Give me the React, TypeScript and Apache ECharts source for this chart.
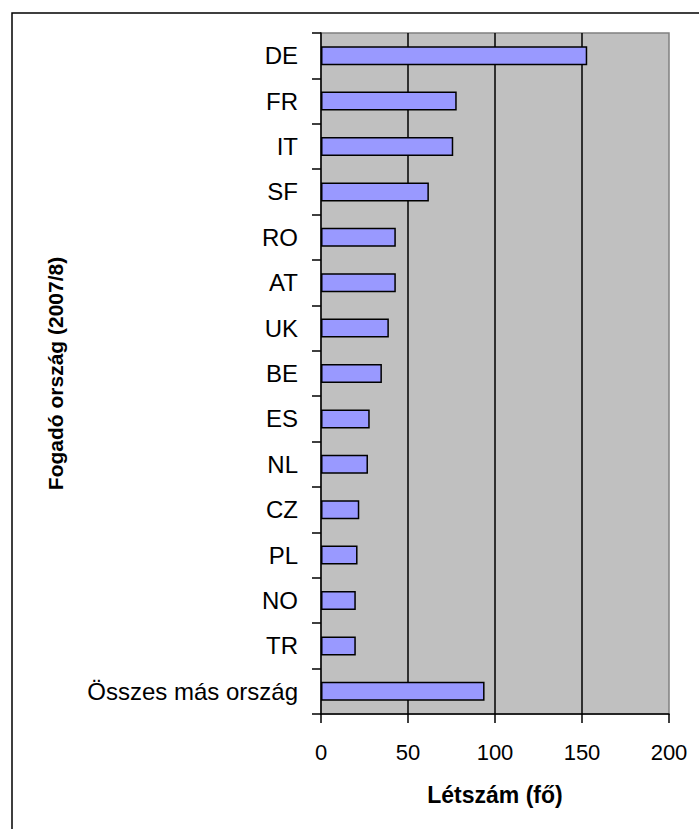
import React, { useEffect, useRef } from "react";
import * as echarts from "echarts";

const categories = ["DE", "FR", "IT", "SF", "RO", "AT", "UK", "BE", "ES", "NL", "CZ", "PL", "NO", "TR", "Összes más ország"];
const values = [153, 78, 76, 62, 43, 43, 39, 35, 28, 27, 22, 21, 20, 20, 94];
const xTicks = { min: 0, max: 200, interval: 50 };
const xTitle = "Létszám (fő)";
const yTitle = "Fogadó ország (2007/8)";

export default function App() {
  const ref = useRef<HTMLDivElement>(null);
  useEffect(() => {
    if (!ref.current) return;
    const chart = echarts.init(ref.current, undefined, { renderer: "svg" });
    const font = "'Liberation Sans', Arial, Helvetica, sans-serif";
    chart.setOption({
      animation: false,
      backgroundColor: "#ffffff",
      textStyle: { fontFamily: font },
      graphic: [
        {
          type: "rect",
          silent: true,
          shape: { x: 12, y: 13, width: 760, height: 860 },
          style: { fill: "none", stroke: "#000", lineWidth: 1.5 },
        },
      ],
      grid: {
        left: 321,
        top: 33,
        right: 30,
        bottom: 115,
        show: true,
        backgroundColor: "#C0C0C0",
        borderColor: "#808080",
        borderWidth: 1.5,
      },
      xAxis: {
        type: "value",
        min: xTicks.min,
        max: xTicks.max,
        interval: xTicks.interval,
        name: xTitle,
        nameLocation: "middle",
        nameGap: 69,
        nameTextStyle: { fontSize: 23, fontWeight: "bold", color: "#000", fontFamily: font },
        axisLine: { show: true, lineStyle: { color: "#000", width: 1.5 } },
        axisTick: { show: true, length: 9, lineStyle: { color: "#000", width: 1.5 } },
        axisLabel: { fontSize: 22, color: "#000", margin: 27, fontFamily: font },
        splitLine: {
          show: true,
          showMinLine: false,
          showMaxLine: false,
          lineStyle: { color: "#000", width: 1.5 },
        },
      },
      yAxis: {
        type: "category",
        data: categories,
        inverse: true,
        name: yTitle,
        nameLocation: "middle",
        nameGap: 255,
        nameTextStyle: { fontSize: 21, fontWeight: "bold", color: "#000", fontFamily: font },
        axisLine: { show: true, lineStyle: { color: "#000", width: 1.5 } },
        axisTick: { show: true, length: 9, lineStyle: { color: "#000", width: 1.5 } },
        axisLabel: { fontSize: 24, color: "#000", margin: 23, fontFamily: font },
        splitLine: { show: false },
      },
      series: [
        {
          type: "bar",
          data: values,
          barWidth: 19,
          itemStyle: { color: "#9999FF", borderColor: "#000", borderWidth: 1.5 },
        },
      ],
    });
    return () => chart.dispose();
  }, []);
  return (
    <div
      ref={ref}
      style={{ position: "absolute", left: 0, top: 0, width: 699, height: 829, background: "#fff" }}
    />
  );
}
